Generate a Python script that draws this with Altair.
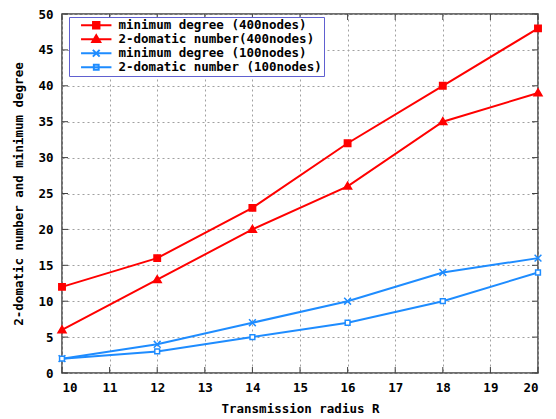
import altair as alt
import pandas as pd

# ---- data ----
radius = [10, 12, 14, 16, 18, 20]
min_deg_400 = [12, 16, 23, 32, 40, 48]
domatic_400 = [6, 13, 20, 26, 35, 39]
min_deg_100 = [2, 4, 7, 10, 14, 16]
domatic_100 = [2, 3, 5, 7, 10, 14]
series_names = [
    "minimum degree (400nodes)",
    "2-domatic number(400nodes)",
    "minimum degree (100nodes)",
    "2-domatic number (100nodes)",
]
x_ticks = list(range(10, 21))
y_ticks = list(range(0, 51, 5))

series_values = [min_deg_400, domatic_400, min_deg_100, domatic_100]
rows = []
for name, vals in zip(series_names, series_values):
    for r, v in zip(radius, vals):
        rows.append({"series": name, "R": r, "value": v})
df = pd.DataFrame(rows)
df_xt = pd.DataFrame({"t": x_ticks})
df_yt = pd.DataFrame({"t": y_ticks})

RED = "#ff0000"
BLUE = "#1e8cff"
colors = [RED, RED, BLUE, BLUE]
fills = [RED, RED, "transparent", "white"]
plot_shapes = [
    "M-0.8,-0.8H0.8V0.8H-0.8Z",
    "M0,-1.0L1.0,0.7H-1.0Z",
    "M-0.85,-0.85L0.85,0.85M-0.85,0.85L0.85,-0.85",
    "M-0.6,-0.6H0.6V0.6H-0.6Z",
]
legend_shapes = [
    "M-3.8,0H3.8M-0.8,-0.8H0.8V0.8H-0.8Z",
    "M-3.8,0H3.8M0,-1.0L1.0,0.7H-1.0Z",
    "M-3.8,0H3.8M-0.85,-0.85L0.85,0.85M-0.85,0.85L0.85,-0.85",
    "M-3.8,0H3.8M-0.6,-0.6H0.6V0.6H-0.6Z",
]

FONT = "DejaVu Sans Mono"
W, H = 476, 359

xscale = alt.Scale(domain=[10, 20], nice=False, zero=False)
yscale = alt.Scale(domain=[0, 50], nice=False)

xaxis = alt.Axis(
    values=x_ticks, format="d", grid=True, gridDash=[2, 3], gridColor="#a0a0a0",
    domain=False, ticks=False, labelFont=FONT, labelFontWeight="bold", labelFontSize=12.5,
    labelColor="black", labelPadding=8, labelOverlap=False,
    title="Transmission radius R", titleFont=FONT,
    titleFontWeight="bold", titleFontSize=12.5, titleColor="black", titlePadding=9,
)
yaxis = alt.Axis(
    values=y_ticks, format="d", grid=True, gridDash=[2, 3], gridColor="#a0a0a0",
    domain=False, ticks=False, labelFont=FONT, labelFontWeight="bold", labelFontSize=12.5,
    labelColor="black", labelPadding=9, labelOverlap=False,
    title="2-domatic number and minimum degree",
    titleFont=FONT, titleFontWeight="bold", titleFontSize=12.5, titleColor="black",
    titlePadding=12,
)

color_nolegend = alt.Color("series:N", scale=alt.Scale(domain=series_names, range=colors), legend=None)

lines = alt.Chart(df).mark_line(strokeWidth=2).encode(
    x=alt.X("R:Q", scale=xscale, axis=xaxis),
    y=alt.Y("value:Q", scale=yscale, axis=yaxis),
    color=color_nolegend,
    detail="series:N",
)

points = alt.Chart(df).mark_point(size=64, strokeWidth=1.5, opacity=1).encode(
    x=alt.X("R:Q", scale=xscale, axis=xaxis),
    y=alt.Y("value:Q", scale=yscale, axis=yaxis),
    color=color_nolegend,
    fill=alt.Fill("series:N", scale=alt.Scale(domain=series_names, range=fills), legend=None),
    shape=alt.Shape("series:N", scale=alt.Scale(domain=series_names, range=plot_shapes), legend=None),
)

legend_def = alt.Legend(
    title=None, orient="none", legendX=7, legendY=3, strokeColor="#6060d0",
    fillColor="white", padding=2, symbolSize=64, symbolStrokeWidth=2,
    symbolOffset=19, labelOffset=16, labelFont=FONT, labelFontWeight="bold",
    labelFontSize=12.5, labelColor="black", rowPadding=-2, labelLimit=400,
)
legend_layer = alt.Chart(df).transform_filter("false").mark_point(opacity=1).encode(
    x=alt.X("R:Q", scale=xscale, axis=xaxis),
    y=alt.Y("value:Q", scale=yscale, axis=yaxis),
    color=alt.Color("series:N", scale=alt.Scale(domain=series_names, range=colors), legend=legend_def),
    fill=alt.Fill("series:N", scale=alt.Scale(domain=series_names, range=fills), legend=legend_def),
    shape=alt.Shape("series:N", scale=alt.Scale(domain=series_names, range=legend_shapes), legend=legend_def),
)

TICK = "#404040"
bottom_ticks = alt.Chart(df_xt).mark_rule(color=TICK, strokeWidth=1).encode(
    x=alt.X("t:Q", scale=xscale, axis=xaxis), y=alt.value(H), y2=alt.value(H - 6))
top_ticks = alt.Chart(df_xt).mark_rule(color=TICK, strokeWidth=1).encode(
    x=alt.X("t:Q", scale=xscale, axis=xaxis), y=alt.value(0), y2=alt.value(6))
left_ticks = alt.Chart(df_yt).mark_rule(color=TICK, strokeWidth=1).encode(
    y=alt.Y("t:Q", scale=yscale, axis=yaxis), x=alt.value(0), x2=alt.value(6))
right_ticks = alt.Chart(df_yt).mark_rule(color=TICK, strokeWidth=1).encode(
    y=alt.Y("t:Q", scale=yscale, axis=yaxis), x=alt.value(W), x2=alt.value(W - 6))

chart = alt.layer(
    lines, points, legend_layer, bottom_ticks, top_ticks, left_ticks, right_ticks
).resolve_scale(
    color="independent", fill="independent", shape="independent"
).properties(
    width=W, height=H,
    autosize=alt.AutoSizeParams(type="none"),
    padding={"left": 54, "top": 6, "right": 10, "bottom": 46},
    background="white",
).configure_view(stroke="#404040", strokeWidth=1.5)

chart.save("out.html", embed_options={"renderer": "svg", "actions": False})
